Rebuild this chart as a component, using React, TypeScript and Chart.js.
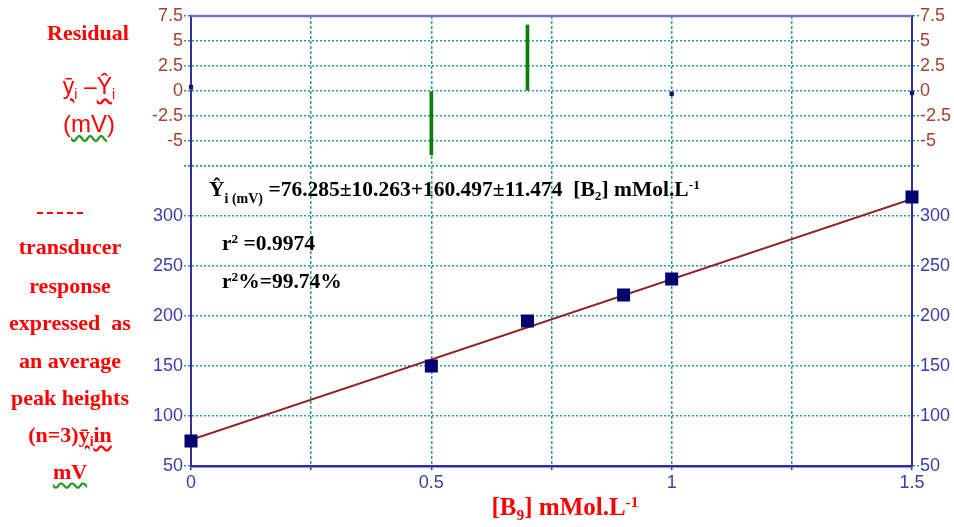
import React, { useEffect, useRef } from "react";
import { Chart, registerables } from "chart.js";

Chart.register(...registerables);

// Calibration data: concentration (mMol/L) vs. mean peak height (mV)
const concentrations = [0, 0.5, 0.7, 0.9, 1.0, 1.5];
const peakHeights = [75, 150, 195, 221, 237, 319];

// Residuals (mean observed minus fitted), mV
const residualX = [0, 0.5, 0.7, 1.0, 1.5];
const residualY = [0.4, -6.4, 6.6, -0.3, -0.2];

// Least-squares line as stated on the plot
const INTERCEPT = 76.285;
const SLOPE = 160.497;
const fitRange = [0, 1.5];

// Labelled ticks
const xTickLabels = [0, 0.5, 1, 1.5];
const residualTickLabels = [-5, -2.5, 0, 2.5, 5, 7.5];
const responseTickLabels = [50, 100, 150, 200, 250, 300];

const AXIS_BLUE = "#2f2f9f";
const FRAME_BLUE = "#7474c4";
const GRID_TEAL = "#2f9898";
const TICK_BLUE = "#3d3da6";
const TICK_BROWN = "#a3402e";
const RED = "#ff0000";

const near = (list: number[], v: number) => list.some((t) => Math.abs(t - v) < 1e-9);

const topFrame = {
  id: "topFrame",
  afterDraw(chart: any) {
    const { ctx, chartArea: a } = chart;
    ctx.save();
    ctx.strokeStyle = FRAME_BLUE;
    ctx.lineWidth = 2.5;
    ctx.beginPath();
    ctx.moveTo(a.left, a.top);
    ctx.lineTo(a.right, a.top);
    ctx.stroke();
    ctx.restore();
  },
};

const tickFont = { family: "'Liberation Sans', Arial, sans-serif", size: 18 };

function yAxis(
  position: "left" | "right",
  stackWeight: number,
  weight: number,
  min: number,
  max: number,
  step: number,
  labels: number[],
  color: string,
  width: number,
  drawGrid: boolean
) {
  return {
    type: "linear",
    position,
    stack: position,
    stackWeight,
    weight,
    min,
    max,
    afterFit: (s: any) => {
      s.width = width;
    },
    border: { color: AXIS_BLUE, width: 2, dash: [2, 2] },
    grid: {
      drawOnChartArea: drawGrid,
      color: GRID_TEAL,
      tickColor: GRID_TEAL,
      tickBorderDash: [2, 2],
      tickLength: 7,
      lineWidth: 1.5,
    },
    ticks: {
      stepSize: step,
      autoSkip: false,
      color,
      font: tickFont,
      padding: 1,
      callback: (v: number) => (near(labels, v) ? String(v) : ""),
    },
  };
}

export default function App() {
  const ref = useRef<HTMLCanvasElement | null>(null);

  useEffect(() => {
    if (!ref.current) return;
    const chart = new Chart(ref.current, {
      type: "scatter",
      data: {
        datasets: [
          {
            type: "scatter",
            label: "mean peak height",
            data: concentrations.map((x, i) => ({ x, y: peakHeights[i] })),
            xAxisID: "x",
            yAxisID: "yMain",
            pointStyle: "rect",
            pointRadius: 9.2,
            backgroundColor: "#000070",
            borderColor: "#000070",
            borderWidth: 0,
            clip: false,
          },
          {
            type: "line",
            label: "fit",
            data: fitRange.map((x) => ({ x, y: INTERCEPT + SLOPE * x })),
            xAxisID: "x",
            yAxisID: "yMain",
            borderColor: "#8e2323",
            borderWidth: 2,
            pointRadius: 0,
            fill: false,
          },
          {
            type: "scatter",
            label: "residual points",
            data: residualX.map((x, i) => ({ x, y: residualY[i] })),
            xAxisID: "x",
            yAxisID: "yRes",
            pointStyle: "rect",
            pointRadius: (c: any) => (Math.abs(c.raw?.y ?? 0) < 1 ? 3 : 0),
            backgroundColor: "#10106e",
            borderWidth: 0,
            clip: false,
          },
          {
            type: "bar",
            label: "residuals",
            data: residualX.map((x, i) => ({ x, y: residualY[i] })),
            xAxisID: "x",
            yAxisID: "yRes",
            backgroundColor: "#0b7d0b",
            barThickness: 3,
          },
        ],
      } as any,
      options: {
        responsive: false,
        animation: false,
        events: [],
        layout: { padding: { top: 16, left: 0, right: 0, bottom: 0 } },
        plugins: { legend: { display: false }, tooltip: { enabled: false } },
        scales: {
          x: {
            type: "linear",
            position: "bottom",
            min: 0,
            max: 1.5,
            offset: false,
            afterFit: (s: any) => {
              s.height = 61;
            },
            border: { color: AXIS_BLUE, width: 2.5, dash: [3, 2] },
            grid: {
              offset: false,
              color: GRID_TEAL,
              tickColor: AXIS_BLUE,
              tickLength: 4,
              lineWidth: 1.5,
            },
            ticks: {
              stepSize: 0.25,
              autoSkip: false,
              maxRotation: 0,
              color: TICK_BLUE,
              font: tickFont,
              padding: 2,
              callback: (v: number) => (near(xTickLabels, v) ? String(v) : ""),
            },
          },
          yRes: yAxis("left", 1, 2, -7.5, 7.5, 2.5, residualTickLabels, TICK_BROWN, 191, true),
          yMain: yAxis("left", 2, 1, 50, 350, 50, responseTickLabels, TICK_BLUE, 191, true),
          yRes2: yAxis("right", 1, 1, -7.5, 7.5, 2.5, residualTickLabels, TICK_BROWN, 42, false),
          yMain2: yAxis("right", 2, 2, 50, 350, 50, responseTickLabels, TICK_BLUE, 42, false),
        } as any,
      },
      plugins: [topFrame],
    });
    return () => chart.destroy();
  }, []);

  const serif = "'Liberation Serif', 'Times New Roman', serif";
  const sans = "'Liberation Sans', Arial, sans-serif";
  const at = (x: number, y: number): React.CSSProperties => ({
    position: "absolute",
    left: x,
    top: y,
    transform: "translate(-50%, -50%)",
    whiteSpace: "nowrap",
    lineHeight: 1,
  });
  const redBold: React.CSSProperties = {
    color: RED,
    fontFamily: serif,
    fontWeight: "bold",
    fontSize: 22,
  };
  const wavy = (c: string): React.CSSProperties => ({
    textDecorationLine: "underline",
    textDecorationStyle: "wavy",
    textDecorationColor: c,
    textUnderlineOffset: 3,
  });
  const sub: React.CSSProperties = { fontSize: "0.62em", verticalAlign: "-0.3em" };
  const sup: React.CSSProperties = { fontSize: "0.62em", verticalAlign: "0.55em" };
  const eq: React.CSSProperties = {
    position: "absolute",
    color: "#000",
    fontFamily: serif,
    fontWeight: "bold",
    fontSize: 21.5,
    whiteSpace: "nowrap",
    lineHeight: 1,
  };

  const leftLines = [
    { t: "transducer", y: 247 },
    { t: "response", y: 286 },
    { t: "expressed  as", y: 323 },
    { t: "an average", y: 361 },
    { t: "peak heights", y: 398 },
  ];

  return (
    <div style={{ position: "absolute", left: 0, top: 0, width: 954, height: 527, background: "#fff", overflow: "hidden" }}>
      <canvas ref={ref} width={954} height={527} style={{ position: "absolute", left: 0, top: 0 }} />

      <div style={{ ...at(88, 33), ...redBold }}>Residual</div>
      <div style={{ ...at(89, 88), color: RED, fontFamily: sans, fontSize: 23 }}>
        <span style={wavy(RED)}>
          ȳ<span style={sub}>i</span>
        </span>{" "}
        –
        <span style={wavy(RED)}>
          Ŷ<span style={sub}>i</span>
        </span>
      </div>
      <div style={{ ...at(89, 124), color: RED, fontFamily: sans, fontSize: 24 }}>
        (<span style={wavy("#2a9a2a")}>mV</span>)
      </div>

      <div style={{ position: "absolute", left: 37, top: 212, width: 46, height: 3, overflow: "hidden" }}>
        <div style={{ borderTop: `2px dashed ${RED}`, width: 46 }} />
      </div>
      {leftLines.map((l) => (
        <div key={l.t} style={{ ...at(70, l.y), ...redBold, whiteSpace: "pre" }}>
          {l.t}
        </div>
      ))}
      <div style={{ ...at(70, 436), ...redBold }}>
        (n=3)
        <span style={wavy(RED)}>
          ȳ<span style={sub}>i</span>in
        </span>
      </div>
      <div style={{ ...at(70, 472), ...redBold }}>
        <span style={wavy("#2a9a2a")}>mV</span>
      </div>

      <div style={{ ...eq, left: 209, top: 178 }}>
        Ŷ<span style={{ fontSize: 14, verticalAlign: "-0.45em" }}>i (mV)</span> =76.285±10.263+160.497±11.474&nbsp;&nbsp;[B
        <span style={sub}>2</span>] mMol.L<span style={sup}>-1</span>
      </div>
      <div style={{ ...eq, left: 222, top: 232 }}>
        r<span style={sup}>2</span> =0.9974
      </div>
      <div style={{ ...eq, left: 222, top: 270 }}>
        r<span style={sup}>2</span>%=99.74%
      </div>

      <div style={{ ...at(565, 508), color: RED, fontFamily: serif, fontWeight: "bold", fontSize: 25 }}>
        [B<span style={sub}>9</span>] mMol.L<span style={sup}>-1</span>
      </div>
    </div>
  );
}
